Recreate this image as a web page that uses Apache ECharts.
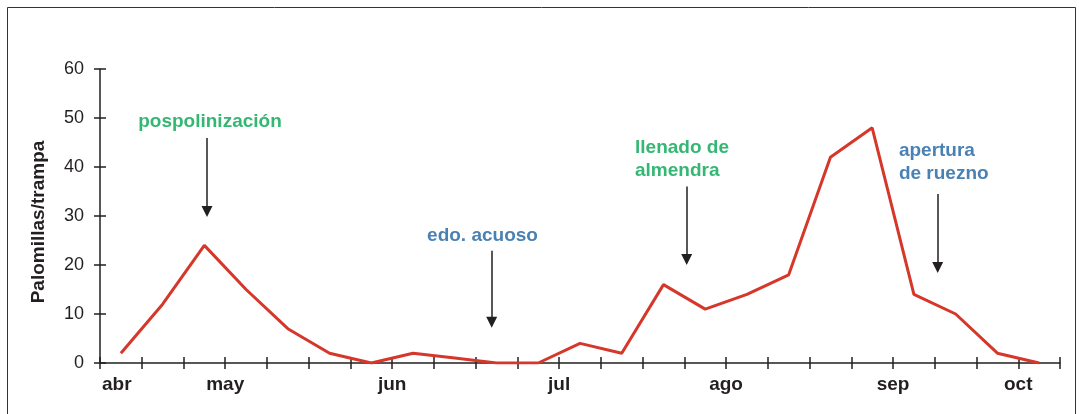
<!DOCTYPE html>
<html>
<head>
    <meta charset="utf-8">
    <title>Palomillas por trampa</title>
    <style>
        html, body { margin: 0; padding: 0; background: #fff; }
        #chartBox { width: 1079px; height: 414px; }
    </style>
</head>
<body>
    <div id="chartBox"></div>
    <script src="https://cdn.jsdelivr.net/npm/echarts@6/dist/echarts.min.js"></script>
    <script>
        // datos: una captura por semana, de abril a octubre
        var weeks = ['1','2','3','4','5','6','7','8','9','10','11','12','13','14','15','16','17','18','19','20','21','22','23'];
        var palomillas = [2, 12, 24, 15, 7, 2, 0, 2, 1, 0, 0, 4, 2, 16, 11, 14, 18, 42, 48, 14, 10, 2, 0];
        // etiquetas de mes sobre las marcas del eje (24 marcas)
        var monthTicks = ['abr','','','may','','','','jun','','','','jul','','','','ago','','','','sep','','','oct',''];
        var yTicks = [0, 10, 20, 30, 40, 50, 60];

        // anotaciones (x en semanas, y en palomillas/trampa)
        var noteText = ['pospolinización', 'edo. acuoso', 'llenado de\nalmendra', 'apertura\nde ruezno'];
        var noteX = [2.135, 8.664, 12.318, 18.64];
        var noteY = [49.2, 25.9, 41.6, 41.0];
        var noteColor = ['#00a550', '#1b62a0', '#00a550', '#1b62a0'];
        var noteAlign = ['center', 'center', 'left', 'left'];
        var arrowX = [2.064, 8.884, 13.556, 19.57];
        var arrowFrom = [45.9, 22.9, 36.0, 34.5];
        var arrowTo = [30.9, 8.3, 21.1, 19.5];

        var chart = echarts.init(document.getElementById('chartBox'));
        var font = 'Liberation Sans, Arial, sans-serif';
        var ink = '#231f20';

        var noteData = noteText.map(function (t, i) {
            return {
                value: [noteX[i], noteY[i]],
                label: { formatter: t, color: noteColor[i], align: noteAlign[i] }
            };
        });
        var arrowData = arrowX.map(function (x, i) {
            return [{ coord: [x, arrowFrom[i]] }, { coord: [x, arrowTo[i]] }];
        });
        // la primera etiqueta (abr) va alineada a la izquierda de su marca
        var monthData = monthTicks.map(function (m, i) {
            return i === 0 ? { value: m, textStyle: { align: 'left', padding: [0, 0, 0, 2] } } : m;
        });

        var option = {
            animation: false,
            backgroundColor: '#fff',
            textStyle: { fontFamily: font },
            graphic: [{
                type: 'rect',
                shape: { x: 7.5, y: 7.5, width: 1068, height: 430 },
                style: { fill: 'none', stroke: '#333', lineWidth: 1 },
                silent: true
            }],
            grid: { left: 100, right: 19, top: 69, bottom: 51 },
            xAxis: [{
                type: 'category',
                data: weeks,
                boundaryGap: true,
                axisLine: { onZero: false, lineStyle: { color: ink, width: 1.5 } },
                axisTick: { show: true, interval: 0, length: 6, lineStyle: { color: ink, width: 1.5 } },
                axisLabel: { show: false },
                splitLine: { show: false }
            }, {
                type: 'category',
                data: monthData,
                boundaryGap: false,
                position: 'bottom',
                axisLine: { show: false, onZero: false },
                axisTick: { show: true, inside: true, interval: 0, length: 6, lineStyle: { color: ink, width: 1.5 } },
                axisLabel: {
                    show: true, interval: 0, margin: 12,
                    color: ink, fontSize: 19, fontWeight: 'bold', fontFamily: font
                },
                splitLine: { show: false }
            }, {
                type: 'value',
                min: -0.5,
                max: 22.5,
                show: false
            }],
            yAxis: [{
                type: 'value',
                min: 0, max: 60, interval: 10,
                name: 'Palomillas/trampa',
                nameLocation: 'middle',
                nameGap: 52,
                nameTextStyle: { color: ink, fontSize: 19, fontWeight: 'bold', fontFamily: font, padding: [0, 12, 0, 0] },
                axisLine: { show: true, onZero: false, lineStyle: { color: ink, width: 1.5 } },
                axisTick: { show: true, length: 6, lineStyle: { color: ink, width: 1.5 } },
                axisLabel: {
                    margin: 16, color: ink, fontSize: 18, fontFamily: font,
                    formatter: function (v) { return yTicks.indexOf(v) >= 0 ? String(v) : ''; }
                },
                splitLine: { show: false }
            }, {
                type: 'value',
                min: 0, max: 60, interval: 10,
                position: 'left',
                axisLine: { show: false, onZero: false },
                axisTick: { show: true, inside: true, length: 6, lineStyle: { color: ink, width: 1.5 } },
                axisLabel: { show: false },
                splitLine: { show: false }
            }],
            series: [{
                type: 'line',
                xAxisIndex: 0,
                yAxisIndex: 0,
                data: palomillas,
                symbol: 'none',
                lineStyle: { color: '#d6372b', width: 3 },
                z: 3
            }, {
                type: 'scatter',
                xAxisIndex: 2,
                yAxisIndex: 0,
                symbolSize: 0,
                data: noteData,
                label: {
                    show: true,
                    position: 'inside',
                    verticalAlign: 'middle',
                    fontSize: 19,
                    fontWeight: 'bold',
                    lineHeight: 23,
                    fontFamily: font
                },
                markLine: {
                    silent: true,
                    symbol: ['none', 'triangle'],
                    symbolSize: 11,
                    label: { show: false },
                    lineStyle: { color: ink, width: 1.5, type: 'solid' },
                    emphasis: { disabled: true },
                    data: arrowData
                }
            }]
        };
        chart.setOption(option);
        window.addEventListener('resize', function () {
            chart.resize();
        });
    </script>
</body>
</html>
